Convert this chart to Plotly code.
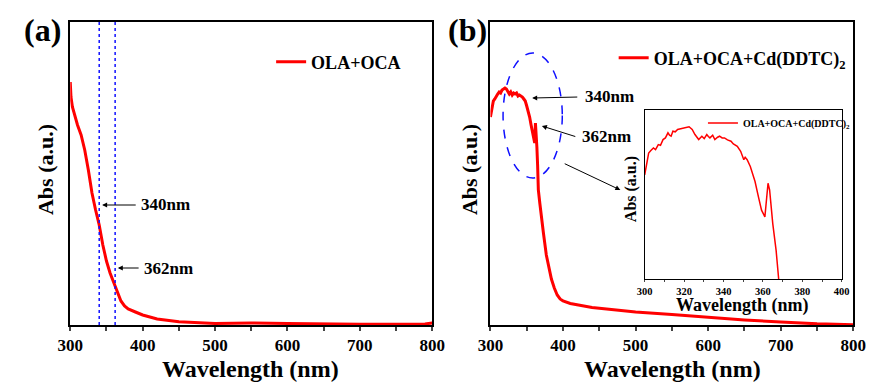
import plotly.graph_objects as go

# ---- data ----
wl_a = [300, 301, 303, 306, 310, 315, 320, 325, 330, 335, 340, 345, 350, 355, 360, 362, 365, 370, 375,
        380, 390, 400, 420, 450, 500, 550, 600, 650, 700, 750, 790, 800]
abs_a = [243, 228, 218, 210, 200, 190, 175, 155, 132, 115, 100, 80, 64, 52, 42, 38, 32, 24, 19,
         16, 13, 10, 6, 3.2, 1.5, 2, 1.5, 1, 0.8, 0.8, 1, 2]

wl_b = [300, 302, 304, 306, 308, 310, 312, 314, 316, 318, 320, 322, 324, 326, 328, 330, 332, 334, 336,
        338, 340, 342, 344, 346, 348, 350, 352, 354, 356, 358, 360, 361, 362, 363, 364, 365, 366, 368,
        370, 373, 377, 380, 384, 388, 392, 396, 400, 410, 420, 440, 460, 480, 500, 550, 600, 650, 700,
        750, 800]
abs_b = [208, 218, 224, 226, 229, 231, 233, 232, 235, 236, 237, 236, 234, 231, 233, 230, 232, 231, 232,
         229, 230, 229, 228, 226, 224, 219, 214, 208, 200, 193, 185, 182, 202, 192, 178, 160, 135, 122,
         108, 92, 70, 60, 46, 37, 30, 26, 24, 21.5, 20, 17.5, 16, 14.5, 13, 10.5, 7.5, 5, 3, 1.2, 0.3]

wl_in = [300, 301, 302, 303, 304.4, 305.5, 306.9, 308, 309.3, 310.5, 311.8, 312.6, 313.4, 314.3, 315.5,
         316.7, 318, 319.2, 320.5, 322.5, 324.1, 325.5, 327.4, 329, 330.2, 331.5, 332.3, 333.1, 334.5,
         335.6, 337, 338, 339.3, 340.5, 342, 343.8, 345, 347, 348.7, 350.3, 351, 352, 353.6, 356, 357.7,
         359.3, 361, 361.8, 362.6, 363.4, 365, 366.7, 368]
abs_in = [310, 350, 375, 382, 390, 385, 400, 398, 415, 420, 435, 428, 425, 440, 438, 445, 447, 450, 452,
          453, 445, 430, 415, 425, 418, 430, 424, 420, 428, 415, 422, 425, 420, 420, 414, 410, 402, 395,
          380, 355, 362, 355, 335, 290, 245, 205, 185, 235, 285, 265, 165, 85, 0]

marker_wl = [340, 362]
marker_labels = ["340nm", "362nm"]
xticks_main = [300, 400, 500, 600, 700, 800]
xticks_inset = [300, 320, 340, 360, 380, 400]

FONT = "Liberation Serif"
RED = "#ff0000"
BLUE = "#1010ff"

def b(s):
    return f"<b>{s}</b>"

fig = go.Figure()
fig.add_trace(go.Scatter(x=wl_a, y=abs_a, mode="lines", line=dict(color=RED, width=3),
                         name=b("OLA+OCA"), xaxis="x", yaxis="y", legend="legend"))
fig.add_trace(go.Scatter(x=wl_b, y=abs_b, mode="lines", line=dict(color=RED, width=3),
                         name=b("OLA+OCA+Cd(DDTC)<sub>2</sub>"), xaxis="x2", yaxis="y2", legend="legend2"))
fig.add_trace(go.Scatter(x=wl_in, y=abs_in, mode="lines", line=dict(color=RED, width=1.5),
                         name=b("OLA+OCA+Cd(DDTC)<sub>2</sub>"), xaxis="x3", yaxis="y3", legend="legend3"))

W, H = 878, 383
def px(a, c):
    return [a / W, c / W]
def py(top, bottom):
    return [(H - bottom) / H, (H - top) / H]

main_x = dict(range=[300, 800], tickvals=xticks_main, ticktext=[b(v) for v in xticks_main],
              ticks="outside", ticklen=4, tickwidth=2,
              minor=dict(dtick=50, ticks="outside", ticklen=4, tickwidth=1.5, tick0=300),
              showline=True, linewidth=2, linecolor="black", mirror=True, showgrid=False,
              zeroline=False, tickfont=dict(family=FONT, size=17, color="black"))
main_y = dict(range=[0, 303], showticklabels=False, ticks="", showline=True, linewidth=2,
              linecolor="black", mirror=True, showgrid=False, zeroline=False)

fig.update_layout(
    width=W, height=H, margin=dict(l=0, r=0, t=0, b=0),
    paper_bgcolor="white", plot_bgcolor="white",
    font=dict(family=FONT, color="black"),
    xaxis=dict(domain=px(59, 432), anchor="y", **main_x),
    yaxis=dict(domain=py(22, 325), anchor="x", **main_y),
    xaxis2=dict(domain=px(492, 866), anchor="y2", **main_x),
    yaxis2=dict(domain=py(22, 325), anchor="x2", **main_y),
    xaxis3=dict(domain=px(651, 854), anchor="y3", range=[300, 400], tickvals=xticks_inset,
                ticktext=[b(v) for v in xticks_inset],
                ticks="outside", ticklen=2, tickwidth=1,
                minor=dict(dtick=10, ticks="outside", ticklen=2, tick0=300),
                showline=True, linewidth=1, linecolor="black", mirror=True, showgrid=False,
                zeroline=False, tickfont=dict(family=FONT, size=10.5, color="black")),
    yaxis3=dict(domain=py(110, 279), anchor="x3", range=[0, 503], showticklabels=False, ticks="",
                showline=True, linewidth=1, linecolor="black", mirror=True, showgrid=False,
                zeroline=False),
    legend=dict(x=266 / W, y=1 - 62 / H, xanchor="left", yanchor="middle", bgcolor="rgba(0,0,0,0)",
                font=dict(family=FONT, size=18, color="black")),
    legend2=dict(x=619 / W, y=1 - 58 / H, xanchor="left", yanchor="middle", bgcolor="rgba(0,0,0,0)",
                 font=dict(family=FONT, size=18, color="black")),
    legend3=dict(x=711 / W, y=1 - 123 / H, xanchor="left", yanchor="middle", bgcolor="rgba(0,0,0,0)",
                 font=dict(family=FONT, size=10, color="black"), itemwidth=30),
    showlegend=True,
)

# dashed marker lines in (a)
for w in marker_wl:
    fig.add_shape(type="line", xref="x", yref="y domain", x0=w, x1=w, y0=0, y1=1,
                  line=dict(color=BLUE, width=1.5, dash="dot"))

# dashed ellipse in (b)
fig.add_shape(type="circle", xref="x2", yref="y2", x0=317.4, x1=399, y0=147, y1=272,
              line=dict(color=BLUE, width=1.5, dash="dash"))

def fnt(s):
    return dict(family=FONT, size=s, color="black")

def arrow(xr, yr, x, y, ax, ay):
    fig.add_annotation(xref=xr, yref=yr, axref=xr, ayref=yr, x=x, y=y, ax=ax, ay=ay, text="",
                       showarrow=True, arrowhead=2, arrowsize=1, arrowwidth=1, arrowcolor="black",
                       font=fnt(10))

def label(xr, yr, x, y, t, size=17):
    fig.add_annotation(xref=xr, yref=yr, x=x, y=y, text=b(t), showarrow=False, xanchor="left",
                       yanchor="middle", font=fnt(size))

# panel (a) annotations
arrow("x", "y", 344, 120, 392.5, 120)
label("x", "y", 394.5, 120, marker_labels[0])
arrow("x", "y", 365.7, 57, 396.5, 57)
label("x", "y", 399, 57, marker_labels[1])

# panel (b) annotations
arrow("x2", "y2", 357.5, 227, 421.7, 228)
label("x2", "y2", 427, 228, marker_labels[0])
arrow("x2", "y2", 370.9, 199, 419, 188)
label("x2", "y2", 424, 188, marker_labels[1])
arrow("x2", "y2", 479, 135, 400.3, 162)

# panel letters
for xc, t in [(30, "(a)"), (468, "(b)")]:
    fig.add_annotation(xref="paper", yref="paper", x=xc / W, y=1 - 30 / H, text=b(t), showarrow=False,
                       font=fnt(32), xanchor="center", yanchor="middle")

# axis titles
for xc in [33, 470]:
    fig.add_annotation(xref="paper", yref="paper", x=xc / W, y=1 - 170 / H, text=b("Abs (a.u.)"),
                       showarrow=False, textangle=-90, font=fnt(22), xanchor="center", yanchor="middle")
for xc in [245, 680]:
    fig.add_annotation(xref="paper", yref="paper", x=xc / W, y=1 - 369 / H, text=b("Wavelength (nm)"),
                       showarrow=False, font=fnt(24), xanchor="center", yanchor="middle")
fig.add_annotation(xref="paper", yref="paper", x=637 / W, y=1 - 189 / H, text=b("Abs (a.u.)"),
                   showarrow=False, textangle=-90, font=fnt(16), xanchor="center", yanchor="middle")
fig.add_annotation(xref="paper", yref="paper", x=752 / W, y=1 - 305 / H, text=b("Wavelength (nm)"),
                   showarrow=False, font=fnt(18), xanchor="center", yanchor="middle")

fig.write_html("out.html")
